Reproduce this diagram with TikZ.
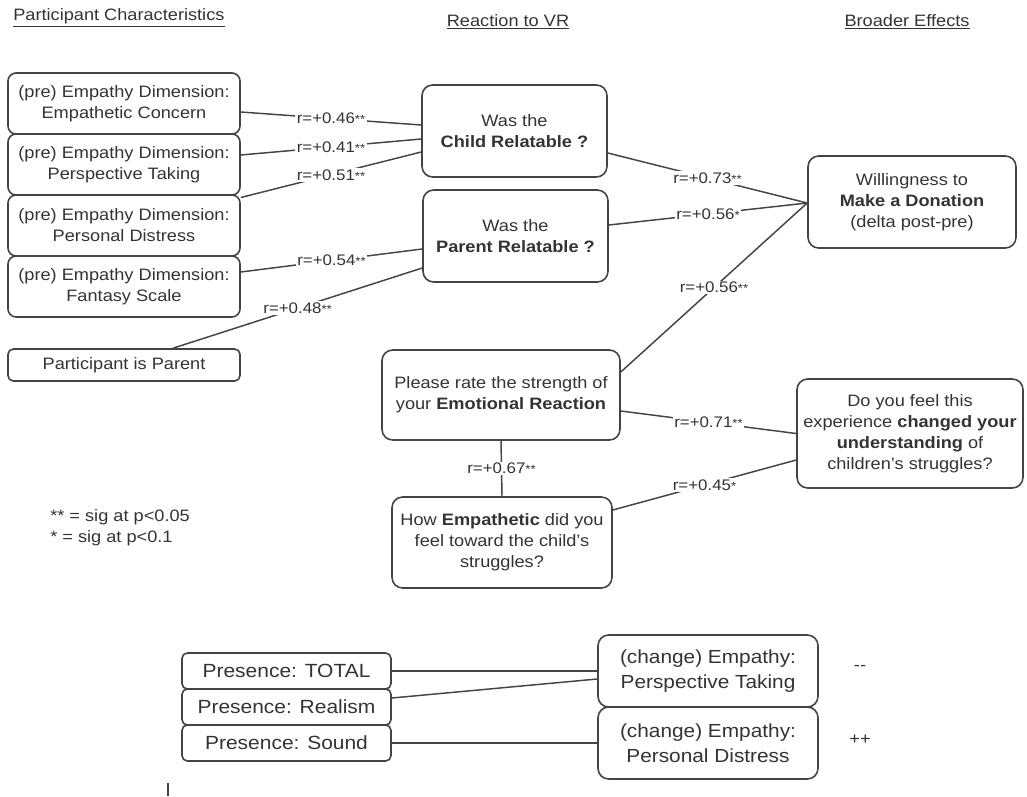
\documentclass[tikz,border=0pt]{standalone}
\usepackage{fontspec}
\setmainfont{Liberation Sans}[FakeStretch=1.1]
\usetikzlibrary{calc}
\definecolor{ink}{HTML}{333333}
\definecolor{edgec}{HTML}{444444}
\newcommand{\twostar}{{\fontsize{9}{9}\selectfont **}}
\newcommand{\onestar}{{\fontsize{9}{9}\selectfont *}}
\begin{document}
\begin{tikzpicture}[x=0.75pt,y=-0.75pt,
  box/.style={draw=edgec, line width=1.2pt, rounded corners=8pt, align=center, inner sep=0pt, text=ink, font=\fontsize{12.4}{15.75}\selectfont},
  prebox/.style={box, rounded corners=6pt, minimum width=174pt, minimum height=45.75pt},
  presbox/.style={box, rounded corners=4pt, minimum width=156.75pt, minimum height=27pt, font=\fontsize{14.3}{17}\selectfont},
  chbox/.style={box, rounded corners=8pt, minimum width=165pt, minimum height=54pt, font=\fontsize{14.2}{18.75}\selectfont},
  conn/.style={draw=edgec, line width=1.1pt},
  lab/.style={fill=white, inner sep=1pt, text=ink, font=\fontsize{11.5}{12}\selectfont},
  hdr/.style={text=ink, font=\fontsize{12.4}{14}\selectfont, inner sep=0pt},
  plain/.style={text=ink, font=\fontsize{12.4}{15}\selectfont, inner sep=0pt},
  ]
\useasboundingbox (0,0) rectangle (1027,796);

% headers
\node[hdr, anchor=west] (h1) at (13,18) {\underline{Participant Characteristics}};
\node[hdr] (h2) at (508,22) {\underline{Reaction to VR}};
\node[hdr] (h3) at (907,22) {\underline{Broader Effects}};

% participant characteristics
\node[prebox] (ec) at (124,103.5) {(pre) Empathy Dimension:\\Empathetic Concern};
\node[prebox] (pt) at (124,164.5) {(pre) Empathy Dimension:\\Perspective Taking};
\node[prebox] (pd) at (124,225.5) {(pre) Empathy Dimension:\\Personal Distress};
\node[prebox] (fs) at (124,286.5) {(pre) Empathy Dimension:\\Fantasy Scale};
\node[box, rounded corners=4pt, minimum width=174pt, minimum height=24pt] (pp) at (124,365) {Participant is Parent};

% reaction to VR
\node[box, minimum width=138.75pt, minimum height=69pt] (child) at (514.5,131) {Was the\\\textbf{Child Relatable ?}};
\node[box, minimum width=138.75pt, minimum height=69pt] (parr) at (515.5,236) {Was the\\\textbf{Parent Relatable ?}};
\node[box, minimum width=178.5pt, minimum height=67.5pt] (emo) at (501,395) {Please rate the strength of\\your \textbf{Emotional Reaction}};
\node[box, minimum width=165pt, minimum height=68.25pt] (empa) at (502,542.5) {How \textbf{Empathetic} did you\\feel toward the child's\\struggles?};

% broader effects
\node[box, minimum width=156pt, minimum height=69pt] (don) at (912,202) {Willingness to\\\textbf{Make a Donation}\\(delta post-pre)};
\node[box, minimum width=169.5pt, minimum height=81.75pt] (und) at (910,433.5) {Do you feel this\\experience \textbf{changed your}\\\textbf{understanding} of\\children's struggles?};

% legend
\node[plain, anchor=west] (leg1) at (50,517) {** = sig at p<0.05};
\node[plain, anchor=west] (leg2) at (50,538) {* = sig at p<0.1};

% connectors
\draw[conn] ($(ec.east)+(0,8.5)$) -- node[lab]{r=+0.46\twostar} ($(child.west)+(0,-6)$);
\draw[conn] ($(pt.east)+(0,-9.5)$) -- node[lab]{r=+0.41\twostar} ($(child.west)+(0,8)$);
\draw[conn] ($(pd.east)+(0,-28)$) -- node[lab]{r=+0.51\twostar} ($(child.west)+(0,21)$);
\draw[conn] ($(fs.east)+(0,-14.5)$) -- node[lab]{r=+0.54\twostar} ($(parr.west)+(0,13)$);
\draw[conn] ($(pp.north)+(49,0)$) -- node[lab]{r=+0.48\twostar} ($(parr.west)+(0,32)$);

\draw[conn] ($(child.east)+(0,22)$) -- node[lab]{r=+0.73\twostar} ($(don.west)+(0,1)$);
\draw[conn] ($(parr.east)+(0,-11)$) -- node[lab]{r=+0.56\onestar} ($(don.west)+(0,1)$);
\draw[conn] ($(emo.east)+(0,-23)$) -- node[lab]{r=+0.56\twostar} ($(don.west)+(0,1)$);
\draw[conn] ($(emo.east)+(0,16)$) -- node[lab]{r=+0.71\twostar} (und.west);
\draw[conn] ($(empa.east)+(0,-32.5)$) -- node[lab]{r=+0.45\onestar} ($(und.west)+(0,26.5)$);
\draw[conn] (emo.south) -- node[lab]{r=+0.67\twostar} (empa.north);

% presence section
\node[presbox] (tot) at (286.5,671) {Presence: TOTAL};
\node[presbox] (real) at (286.5,707) {Presence: Realism};
\node[presbox] (snd) at (286.5,743) {Presence: Sound};
\node[chbox] (cpt) at (708,671) {(change) Empathy:\\Perspective Taking};
\node[chbox] (cpd) at (708,743) {(change) Empathy:\\Personal Distress};
\node[plain] (mm) at (860,668) {{-}{-}};
\node[plain] (pl) at (860,740) {++};

\draw[conn] (tot.east) -- (tot.east -| cpt.west);
\draw[conn] ($(real.east)+(0,-9)$) -- ($(cpt.west)+(0,8)$);
\draw[conn] (snd.east) -- (snd.east -| cpd.west);

\coordinate (tk1) at (168,783);
\coordinate (tk2) at (168,796);
\draw[conn] (tk1) -- (tk2);
\end{tikzpicture}
\end{document}
